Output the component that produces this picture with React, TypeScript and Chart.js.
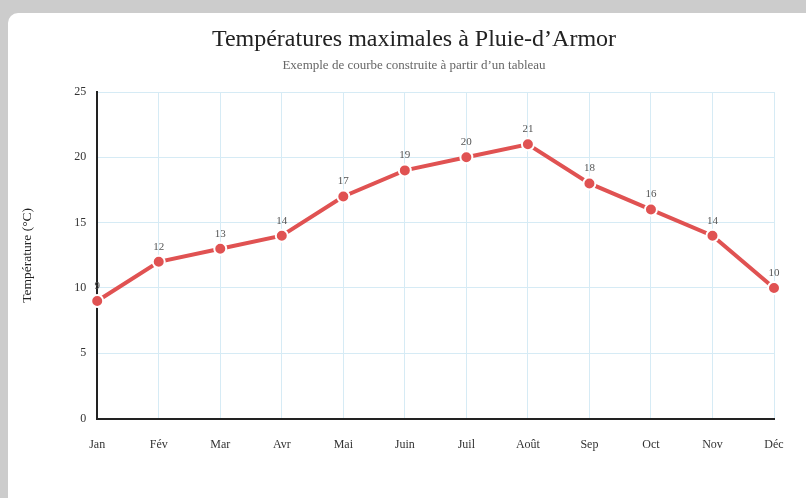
import React, { useEffect, useRef } from "react";
import { Chart, registerables } from "chart.js";

Chart.register(...registerables);

const months = ["Jan", "Fév", "Mar", "Avr", "Mai", "Juin", "Juil", "Août", "Sep", "Oct", "Nov", "Déc"];
const temperatures = [9, 12, 13, 14, 17, 19, 20, 21, 18, 16, 14, 10];
const yTicks = [0, 5, 10, 15, 20, 25];

const titleText = "Températures maximales à Pluie-d\u2019Armor";
const subtitleText = "Exemple de courbe construite à partir d\u2019un tableau";
const yAxisTitle = "Température (°C)";

const LINE_COLOR = "#e05252";
const GRID_COLOR = "#d6ebf5";
const FONT = "'Liberation Serif', 'Times New Roman', serif";

const dataLabels = {
  id: "dataLabels",
  afterDatasetsDraw(chart: any) {
    const ctx = chart.ctx;
    const meta = chart.getDatasetMeta(0);
    ctx.save();
    ctx.font = `11px ${FONT}`;
    ctx.fillStyle = "#555";
    ctx.textAlign = "center";
    ctx.textBaseline = "middle";
    meta.data.forEach((pt: any, i: number) => {
      ctx.fillText(String(chart.data.datasets[0].data[i]), pt.x, pt.y - 15);
    });
    ctx.restore();
  },
};

export default function App() {
  const ref = useRef<HTMLCanvasElement | null>(null);

  useEffect(() => {
    document.body.style.margin = "0";
    document.body.style.background = "#cccccc";
    document.body.style.overflow = "hidden";
    const chart = new Chart(ref.current as HTMLCanvasElement, {
      type: "line",
      data: {
        labels: months,
        datasets: [
          {
            data: temperatures,
            borderColor: LINE_COLOR,
            backgroundColor: LINE_COLOR,
            borderWidth: 4,
            pointRadius: 6,
            pointHoverRadius: 6,
            pointBackgroundColor: LINE_COLOR,
            pointBorderColor: "#ffffff",
            pointBorderWidth: 2,
            tension: 0,
            clip: false as any,
          },
        ],
      },
      options: {
        animation: false,
        responsive: false,
        maintainAspectRatio: false,
        layout: { padding: { left: 0, right: 46, top: 79, bottom: 27 } },
        plugins: {
          legend: { display: false },
          tooltip: { enabled: false },
          title: { display: false },
          subtitle: { display: false },
        },
        scales: {
          x: {
            offset: false,
            grid: { color: GRID_COLOR, drawTicks: false, lineWidth: 1 },
            border: { display: true, color: "#222", width: 2 },
            ticks: {
              color: "#333",
              font: { family: FONT, size: 12 },
              padding: 19,
              maxRotation: 0,
            },
          },
          y: {
            min: 0,
            max: 25,
            afterBuildTicks(scale: any) {
              scale.ticks = yTicks.map((v) => ({ value: v }));
            },
            grid: { color: GRID_COLOR, drawTicks: false, lineWidth: 1 },
            border: { display: true, color: "#222", width: 2 },
            ticks: {
              color: "#333",
              font: { family: FONT, size: 12 },
              padding: 11,
            },
            title: {
              display: true,
              text: yAxisTitle,
              color: "#222",
              font: { family: FONT, size: 13.5 },
              padding: { top: 11, bottom: 28 },
            },
          },
        },
      },
      plugins: [dataLabels],
    });
    return () => chart.destroy();
  }, []);

  return (
    <div
      style={{
        position: "absolute",
        left: 8,
        top: 13,
        width: 840,
        height: 540,
        background: "#ffffff",
        borderRadius: 10,
      }}
    >
      <canvas ref={ref} width={812} height={485} style={{ display: "block", width: 812, height: 485 }} />
      <div
        style={{
          position: "absolute",
          left: 0,
          top: 10.6,
          width: 812,
          textAlign: "center",
          fontFamily: FONT,
          fontSize: 24,
          lineHeight: "28.8px",
          color: "#222",
          whiteSpace: "nowrap",
        }}
      >
        {titleText}
      </div>
      <div
        style={{
          position: "absolute",
          left: 0,
          top: 44.2,
          width: 812,
          textAlign: "center",
          fontFamily: FONT,
          fontSize: 13,
          lineHeight: "15.6px",
          color: "#666",
          whiteSpace: "nowrap",
        }}
      >
        {subtitleText}
      </div>
    </div>
  );
}
